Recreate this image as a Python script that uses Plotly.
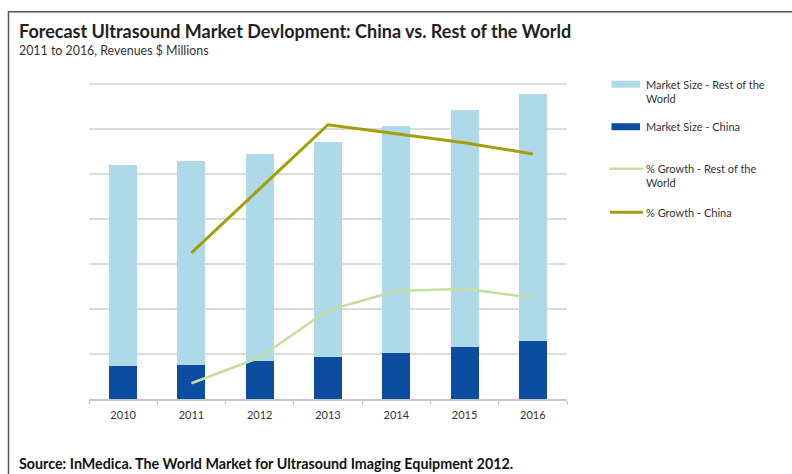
import plotly.graph_objects as go

# Category labels and series values
years = ["2010", "2011", "2012", "2013", "2014", "2015", "2016"]
china_size = [730, 760, 840, 930, 1020, 1160, 1290]            # $ millions
row_size = [4470, 4530, 4600, 4790, 5050, 5260, 5490]          # $ millions
growth_years = ["2011", "2012", "2013", "2014", "2015", "2016"]
growth_china = [6.5, 9.35, 12.2, 11.8, 11.4, 10.9]             # %
growth_row = [0.7, 1.85, 3.95, 4.8, 4.9, 4.5]                  # %

C_ROW = "#AED9E8"
C_CHINA = "#0C4DA0"
C_G_ROW = "#C4E09E"
C_G_CHINA = "#A39E0A"
FONT = "Lato"

W, H = 792, 474
Y_MAX = 7050                       # a little headroom so the 7000 gridline is drawn
L, R, B = 89, 567, 399             # plot area in pixels
T = B - 315 * Y_MAX / 7000


def px_x(px):
    return (px - L) / (R - L)


def px_y(py):
    return (B - py) / (B - T)


fig = go.Figure()
fig.add_trace(go.Bar(x=years, y=china_size, name="Market Size - China",
                     marker=dict(color=C_CHINA, line=dict(width=0))))
fig.add_trace(go.Bar(x=years, y=row_size, name="Market Size - Rest of the World",
                     marker=dict(color=C_ROW, line=dict(width=0))))
fig.add_trace(go.Scatter(x=growth_years, y=growth_row, yaxis="y2", mode="lines",
                         name="% Growth - Rest of the World",
                         line=dict(color=C_G_ROW, width=2.5)))
fig.add_trace(go.Scatter(x=growth_years, y=growth_china, yaxis="y2", mode="lines",
                         name="% Growth - China",
                         line=dict(color=C_G_CHINA, width=3)))

shapes = [
    # outer frame
    dict(type="line", xref="paper", yref="paper", x0=px_x(8), x1=px_x(800),
         y0=px_y(11.5), y1=px_y(11.5), line=dict(color="#555555", width=1.5), layer="above"),
    dict(type="line", xref="paper", yref="paper", x0=px_x(8.5), x1=px_x(8.5),
         y0=px_y(11), y1=px_y(480), line=dict(color="#555555", width=1.5), layer="above"),
]
annotations = [
    dict(text="<b>Forecast Ultrasound Market Devlopment: China vs. Rest of the World</b>",
         x=px_x(17), y=px_y(31), xref="paper", yref="paper", xanchor="left", yanchor="middle",
         showarrow=False, font=dict(family=FONT, size=18, color="#222222")),
    dict(text="2011 to 2016, Revenues $ Millions",
         x=px_x(17), y=px_y(50), xref="paper", yref="paper", xanchor="left", yanchor="middle",
         showarrow=False, font=dict(family=FONT, size=12.4, color="#333333")),
    dict(text="<b>Source: InMedica. The World Market for Ultrasound Imaging Equipment 2012.</b>",
         x=px_x(17), y=px_y(464), xref="paper", yref="paper", xanchor="left", yanchor="middle",
         showarrow=False, font=dict(family=FONT, size=14.3, color="#111111")),
]

# legend drawn as swatches and labels
legend_items = [
    ("rect", C_ROW, "Market Size - Rest of the<br>World", 84),
    ("rect", C_CHINA, "Market Size - China", 126.5),
    ("line", C_G_ROW, "% Growth - Rest of the<br>World", 168.5),
    ("line", C_G_CHINA, "% Growth - China", 212),
]
for kind, color, label, cy in legend_items:
    if kind == "rect":
        shapes.append(dict(type="rect", xref="paper", yref="paper",
                           x0=px_x(611.5), x1=px_x(640), y0=px_y(cy - 3.5), y1=px_y(cy + 3.5),
                           fillcolor=color, line=dict(width=0)))
    else:
        shapes.append(dict(type="line", xref="paper", yref="paper",
                           x0=px_x(610), x1=px_x(643), y0=px_y(cy), y1=px_y(cy),
                           line=dict(color=color, width=3 if color == C_G_CHINA else 2.5)))
    annotations.append(dict(text=label, x=px_x(644), y=px_y(cy - 8.5), xref="paper", yref="paper",
                            xanchor="left", yanchor="top", align="left", showarrow=False,
                            font=dict(family=FONT, size=11, color="#333333")))

fig.update_layout(
    width=W, height=H,
    margin=dict(l=L, r=W - R, t=T, b=H - B, pad=0),
    paper_bgcolor="white", plot_bgcolor="white",
    barmode="stack", bargap=0.59,
    showlegend=False,
    font=dict(family=FONT, color="#333333"),
    xaxis=dict(type="category", categoryorder="array", categoryarray=years,
               showgrid=False, showline=True, linecolor="#c8c8c8", linewidth=1.5,
               ticks="outside", tickson="boundaries", ticklen=4, tickcolor="#c8c8c8",
               ticklabelstandoff=5,
               tickfont=dict(family=FONT, size=11, color="#333333")),
    yaxis=dict(range=[0, Y_MAX], dtick=1000, showticklabels=False, showgrid=True,
               gridcolor="#dcdcdc", gridwidth=2, zeroline=False, showline=False),
    yaxis2=dict(range=[0, 14 * Y_MAX / 7000], overlaying="y", side="right", visible=False),
    shapes=shapes,
    annotations=annotations,
)

fig.write_html("out.html")
